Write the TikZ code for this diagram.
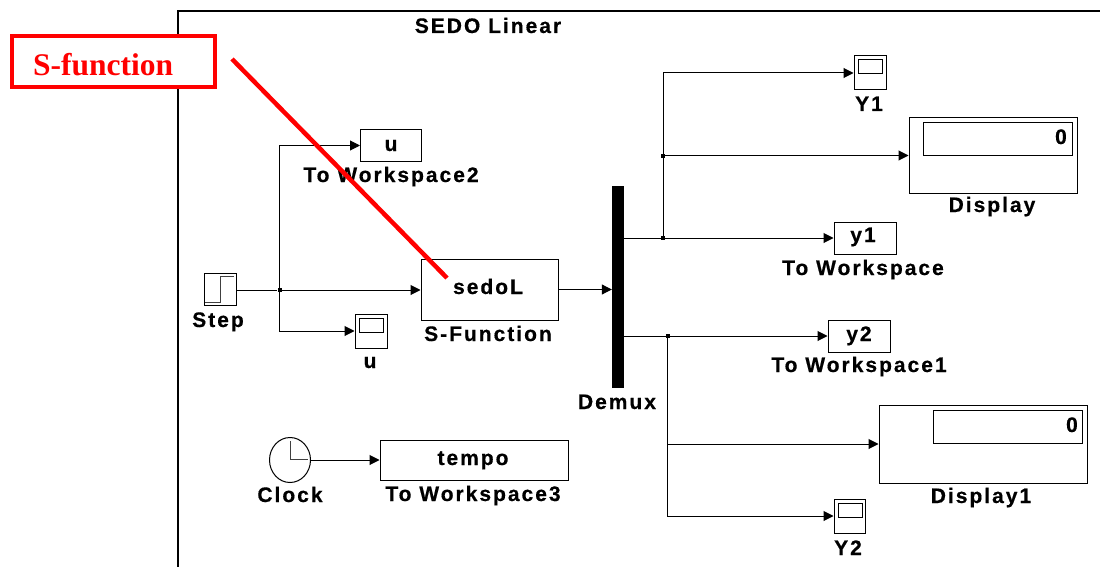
\documentclass[tikz,border=0pt]{standalone}
\usepackage{fontspec}
\setmainfont{Liberation Sans}
\newfontfamily\lblfont[LetterSpace=9.5,FakeBold=0.5]{Liberation Sans Bold}
\newfontfamily\redfont{Liberation Serif Bold}
\usetikzlibrary{arrows.meta,shapes.geometric}
\tikzset{
  block/.style={draw,line width=1pt,inner sep=0pt,fill=white},
  inner box/.style={draw,line width=1pt,inner sep=0pt},
  lbl/.style={anchor=base,inner sep=0pt,font=\fontsize{21}{25}\selectfont\lblfont,text=black},
  sig/.style={line width=1pt,-{Triangle[length=10pt,width=10pt]}},
  wire/.style={line width=1pt},
  junction/.style={fill=black,inner sep=0pt,minimum size=4pt},
  redstroke/.style={draw=red,line width=4.5pt}
}
\begin{document}
\begin{tikzpicture}[x=1pt,y=-1pt]
\useasboundingbox (0,0) rectangle (1100,567);
% subsystem frame
\coordinate (fbl) at (178,567);
\coordinate (ftl) at (178,11);
\coordinate (ftr) at (1100,11);
\draw[line width=2pt] (fbl) -- (ftl) -- (ftr);
\node[lbl] (title) at (488,33) {SEDO Linear};
% blocks
\node[block,minimum width=32pt,minimum height=32pt] (step) at (220,289) {};
\coordinate (s1) at (205,302); \coordinate (s2) at (220,302);
\coordinate (s3) at (220,276); \coordinate (s4) at (234,276);
\draw[line width=1pt,black!75] (s1) -- (s2) -- (s3) -- (s4);
\node[lbl] (stepl) at (218,327) {Step};
\node[block,minimum width=61pt,minimum height=32pt] (uw) at (391,145.5) {};
\node[lbl] (uwt) at (391,151) {u};
\node[lbl] (uwl) at (391,182) {To Workspace2};
\node[block,minimum width=137pt,minimum height=61pt] (sedo) at (489.5,289.5) {};
\node[lbl] (sedot) at (488,294) {sedoL};
\node[lbl] (sedol) at (488,341) {S-Function};
\node[block,minimum width=32pt,minimum height=34pt] (us) at (371,331) {};
\node[inner box,minimum width=24pt,minimum height=14pt] (usi) at (371,325) {};
\node[lbl] (usl) at (370,368) {u};
\node[draw,line width=1pt,ellipse,inner sep=0pt,minimum width=41pt,minimum height=45pt] (clk) at (290,460) {};
\coordinate (h1) at (290,441); \coordinate (h2) at (290,459); \coordinate (h3) at (308,459);
\draw[line width=1pt,black!75] (h1) -- (h2) -- (h3);
\node[lbl] (clkl) at (290,502) {Clock};
\node[block,minimum width=188pt,minimum height=40pt] (tempo) at (474,460) {};
\node[lbl] (tempot) at (473,465) {tempo};
\node[lbl] (tempol) at (473,501) {To Workspace3};
\node[fill=black,inner sep=0pt,minimum width=12pt,minimum height=202pt] (demux) at (618,287) {};
\node[lbl] (demuxl) at (617,409) {Demux};
\node[block,minimum width=32pt,minimum height=34pt] (y1s) at (870,73) {};
\node[inner box,minimum width=24pt,minimum height=14pt] (y1si) at (870,67) {};
\node[lbl] (y1sl) at (869,111) {Y1};
\node[block,minimum width=168pt,minimum height=75pt] (disp) at (993,155.5) {};
\node[inner box,minimum width=149pt,minimum height=32pt] (dispi) at (997.5,139) {};
\node[lbl,anchor=base east] (dispt) at (1067,144) {0};
\node[lbl] (displ) at (992,212) {Display};
\node[block,minimum width=62pt,minimum height=32pt] (y1w) at (865,238) {};
\node[lbl] (y1wt) at (863,242) {y1};
\node[lbl] (y1wl) at (863,275) {To Workspace};
\node[block,minimum width=62pt,minimum height=32pt] (y2w) at (859,336) {};
\node[lbl] (y2wt) at (859,341) {y2};
\node[lbl] (y2wl) at (859,372) {To Workspace1};
\node[block,minimum width=208pt,minimum height=78pt] (disp1) at (983,444) {};
\node[inner box,minimum width=149pt,minimum height=33pt] (disp1i) at (1007.5,426.5) {};
\node[lbl,anchor=base east] (disp1t) at (1078,432) {0};
\node[lbl] (disp1l) at (981,503) {Display1};
\node[block,minimum width=31pt,minimum height=34pt] (y2s) at (849.5,516) {};
\node[inner box,minimum width=24pt,minimum height=14pt] (y2si) at (850,510) {};
\node[lbl] (y2sl) at (848,555) {Y2};
% junctions
\node[junction] (j1) at (279.5,290) {};
\node[junction] (j2) at (663,238) {};
\node[junction] (j3) at (663,155.5) {};
\node[junction] (j4) at (667.5,336) {};
\coordinate (jb) at (667.5,444);
% connectors
\draw[wire] (step.east |- j1) -- (j1);
\draw[sig] (j1) -- (sedo.west |- j1);
\draw[sig] (j1.center) |- (uw.west);
\draw[sig] (j1.center) |- (us.west);
\draw[sig] (clk.east) -- (tempo.west);
\draw[sig] (sedo.east) -- (demux.west |- sedo.east);
\draw[sig] (demux.east |- y1w.west) -- (y1w.west);
\draw[wire] (j2.center) -- (j3.center);
\draw[sig] (j3.center) |- (y1s.west);
\draw[sig] (j3.center) -- (disp.west);
\draw[sig] (demux.east |- y2w.west) -- (y2w.west);
\draw[sig] (j4.center) |- (y2s.west);
\draw[sig] (jb) -- (disp1.west);
% red annotation
\node[redstroke,fill=white,inner sep=0pt,minimum width=203pt,minimum height=51pt] (sf) at (113.5,61.5) {};
\node[anchor=base west,inner sep=0pt,font=\fontsize{31.5}{36}\selectfont\redfont,text=red] (sft) at (33,76) {S-function};
\coordinate (ra) at (232,59);
\coordinate (rb) at (447,278);
\draw[redstroke] (ra) -- (rb);
\end{tikzpicture}
\end{document}
